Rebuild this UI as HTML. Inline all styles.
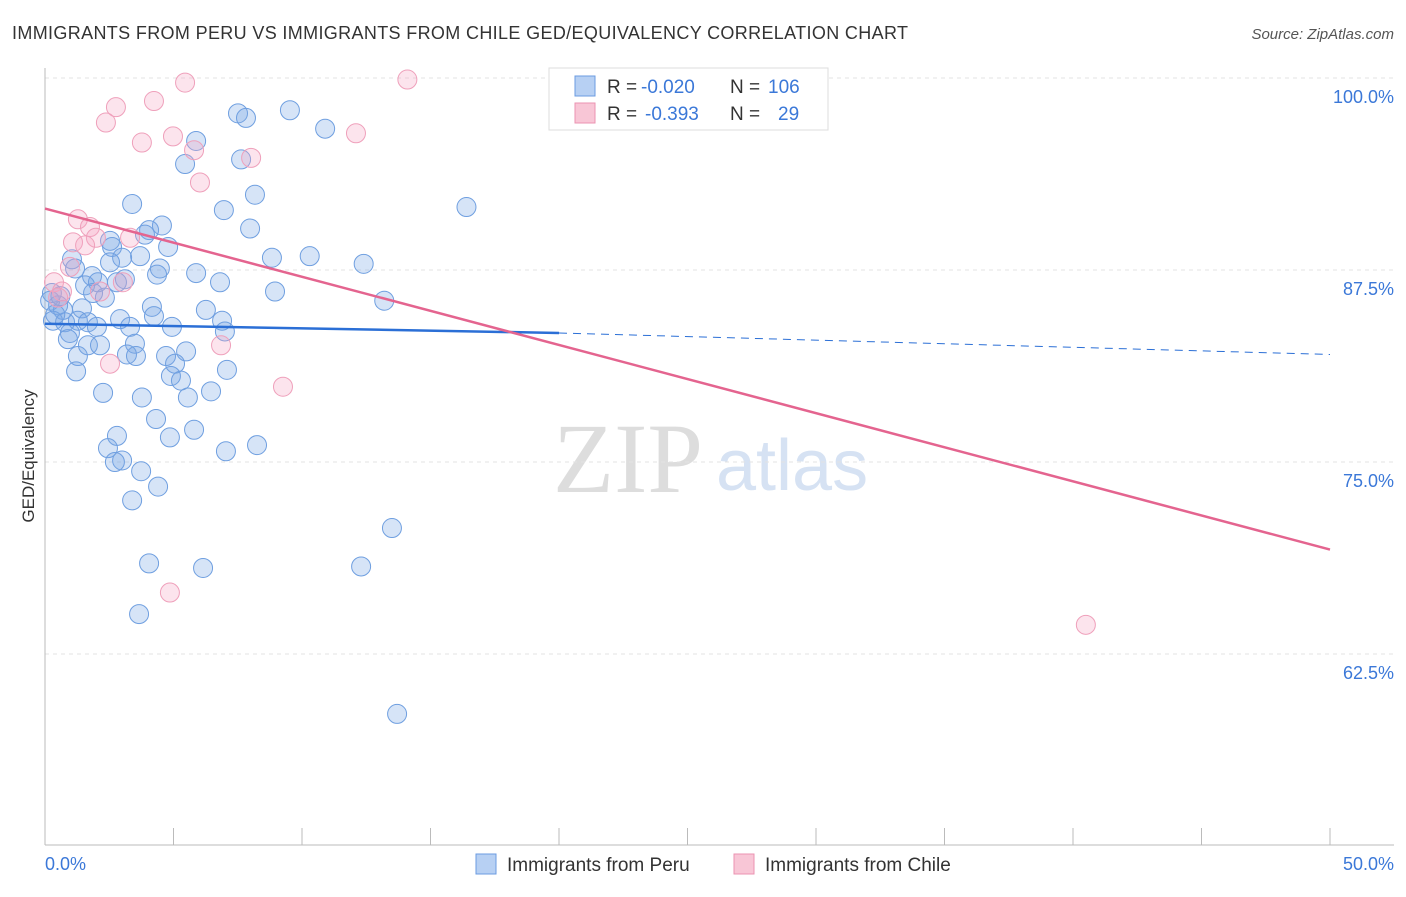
<!DOCTYPE html>
<html><head><meta charset="utf-8"><style>
body{margin:0;background:#fff;font-family:"Liberation Sans",sans-serif}
</style></head><body>
<svg width="1406" height="892" xmlns="http://www.w3.org/2000/svg" font-family="Liberation Sans, sans-serif">
<text x="12" y="39" font-size="18" fill="#333" textLength="896">IMMIGRANTS FROM PERU VS IMMIGRANTS FROM CHILE GED/EQUIVALENCY CORRELATION CHART</text>
<text x="1394" y="39" font-size="15" fill="#555" text-anchor="end" font-style="italic">Source: ZipAtlas.com</text>
<text x="553" y="492" font-size="100" fill="#ddd" font-family="Liberation Serif, serif">ZIP</text>
<text x="716" y="490" font-size="72" fill="#d6e2f3">atlas</text>
<g id="grid"></g>
<g id="axes"></g>
<g id="pts"></g>
<g id="trend"></g>
<text transform="translate(34,456) rotate(-90)" font-size="17" fill="#333" text-anchor="middle">GED/Equivalency</text>
<text x="45" y="870" font-size="18" fill="#3b78d8">0.0%</text>
<text x="1394" y="870" font-size="18" fill="#3b78d8" text-anchor="end">50.0%</text>
<g>
<rect x="549" y="68" width="279" height="62" fill="#fff" stroke="#ddd"/>
<rect x="575" y="76" width="20" height="20" fill="#b7d0f3" stroke="#6b9be0"/>
<rect x="575" y="103" width="20" height="20" fill="#f8c6d6" stroke="#eb93b1"/>
<text x="607" y="93" font-size="19" fill="#333">R =</text>
<text x="641" y="93" font-size="19" fill="#3b78d8">-0.020</text>
<text x="730" y="93" font-size="19" fill="#333">N =</text>
<text x="768" y="93" font-size="19" fill="#3b78d8">106</text>
<text x="607" y="120" font-size="19" fill="#333">R =</text>
<text x="645" y="120" font-size="19" fill="#3b78d8">-0.393</text>
<text x="730" y="120" font-size="19" fill="#333">N =</text>
<text x="778" y="120" font-size="19" fill="#3b78d8">29</text>
</g>
<g>
<rect x="476" y="854" width="20" height="20" fill="#b7d0f3" stroke="#6b9be0"/>
<text x="507" y="871" font-size="19" fill="#333">Immigrants from Peru</text>
<rect x="734" y="854" width="20" height="20" fill="#f8c6d6" stroke="#eb93b1"/>
<text x="765" y="871" font-size="19" fill="#333">Immigrants from Chile</text>
</g>
</svg>
<script>
const yTicks=[100,87.5,75,62.5];
const xTicks=[0,5,10,15,20,25,30,35,40,45,50];
const peruX=[9.53,7.51,7.82,10.9,5.88,5.45,7.63,8.17,6.96,16.4,3.39,4.55,4.05,7.98,2.53,3.89,4.79,2.61,3.70,3.0,1.05,2.53,8.83,10.3,12.4,4.47,4.36,5.88,1.17,1.83,6.81,3.11,2.06,2.8,1.56,8.95,0.27,1.87,2.33,13.2,4.16,6.26,1.44,0.51,0.70,4.24,2.92,6.89,1.28,1.67,0.31,0.78,2.02,3.31,4.94,7.0,0.97,0.89,1.67,2.14,3.5,5.49,3.19,3.54,1.28,4.71,5.06,7.08,1.21,4.90,5.29,2.26,6.46,3.77,5.56,4.32,5.8,4.86,2.8,8.25,7.04,2.45,3.0,2.72,3.74,4.40,3.39,13.5,4.05,6.15,12.3,3.66,13.7,0.2,0.4,0.6];
const peruY=[97.9,97.7,97.4,96.7,95.9,94.4,94.7,92.4,91.4,91.6,91.8,90.4,90.1,90.2,89.4,89.8,89.0,89.0,88.4,88.3,88.2,88.0,88.3,88.4,87.9,87.6,87.2,87.3,87.6,87.1,86.7,86.9,86.7,86.7,86.5,86.1,86.0,86.0,85.7,85.5,85.1,84.9,85.0,85.2,84.9,84.5,84.3,84.2,84.2,84.1,84.2,84.1,83.8,83.8,83.8,83.5,83.4,83.0,82.6,82.6,82.7,82.2,82.0,81.9,81.9,81.9,81.4,81.0,80.9,80.6,80.3,79.5,79.6,79.2,79.2,77.8,77.1,76.6,76.7,76.1,75.7,75.9,75.1,75.0,74.4,73.4,72.5,70.7,68.4,68.1,68.2,65.1,58.6,85.5,84.6,85.8];
const chileX=[5.45,14.1,2.76,4.24,2.37,3.77,4.98,12.1,5.80,8.02,6.03,1.28,1.75,3.31,1.98,1.09,1.56,0.97,0.35,0.66,0.51,3.03,2.14,6.85,2.53,9.26,4.86,40.5];
const chileY=[99.7,99.9,98.1,98.5,97.1,95.8,96.2,96.4,95.3,94.8,93.2,90.8,90.3,89.6,89.6,89.3,89.1,87.7,86.7,86.1,85.7,86.7,86.1,82.6,81.4,79.9,66.5,64.4];
const peruTrend=[84.0,83.4,82.0]; // at x=0,20,50
const chileTrend=[91.5,69.3]; // at x=0,50
const X=v=>45+v*25.7, Y=v=>78+(100-v)*15.36;
const NS='http://www.w3.org/2000/svg';
function mk(tag,attrs,parent){const e=document.createElementNS(NS,tag);for(const k in attrs)e.setAttribute(k,attrs[k]);document.getElementById(parent).appendChild(e);return e;}
yTicks.forEach(t=>{
 const l=mk('line',{x1:45,x2:1394,y1:Y(t),y2:Y(t),stroke:'#e3e3e3','stroke-dasharray':'4,4'},'grid');
 
 
 const tx=mk('text',{x:1394,y:Y(t)+25,'font-size':18,fill:'#3b78d8','text-anchor':'end'},'grid');
 tx.textContent=t.toFixed(1)+'%';
 
 
});
let a=mk('line',{x1:45,x2:45,y1:68,y2:845,stroke:'#bbb'},'axes');


a=mk('line',{x1:45,x2:1394,y1:845,y2:845,stroke:'#bbb'},'axes');


xTicks.forEach(t=>{
 const l=mk('line',{x1:X(t),x2:X(t),y1:828,y2:845,stroke:'#bbb'},'axes');
 
 
});
peruX.forEach((v,i)=>{
 const c=mk('circle',{cx:X(v),cy:Y(peruY[i]),r:9.5,fill:'rgba(120,165,230,0.3)',stroke:'#6f9fe0','stroke-width':1},'pts');
 
 
});
chileX.forEach((v,i)=>{
 const c=mk('circle',{cx:X(v),cy:Y(chileY[i]),r:9.5,fill:'rgba(245,165,195,0.3)',stroke:'#efa0bb','stroke-width':1},'pts');
 
 
});
let t=mk('line',{x1:X(0),y1:Y(peruTrend[0]),x2:X(20),y2:Y(peruTrend[1]),stroke:'#2b6fd6','stroke-width':2.5},'trend');


t=mk('line',{x1:X(20),y1:Y(peruTrend[1]),x2:X(50),y2:Y(peruTrend[2]),stroke:'#2b6fd6','stroke-width':1,'stroke-dasharray':'8,6'},'trend');


t=mk('line',{x1:X(0),y1:Y(chileTrend[0]),x2:X(50),y2:Y(chileTrend[1]),stroke:'#e4648f','stroke-width':2.5},'trend');


</script>
</body></html>
